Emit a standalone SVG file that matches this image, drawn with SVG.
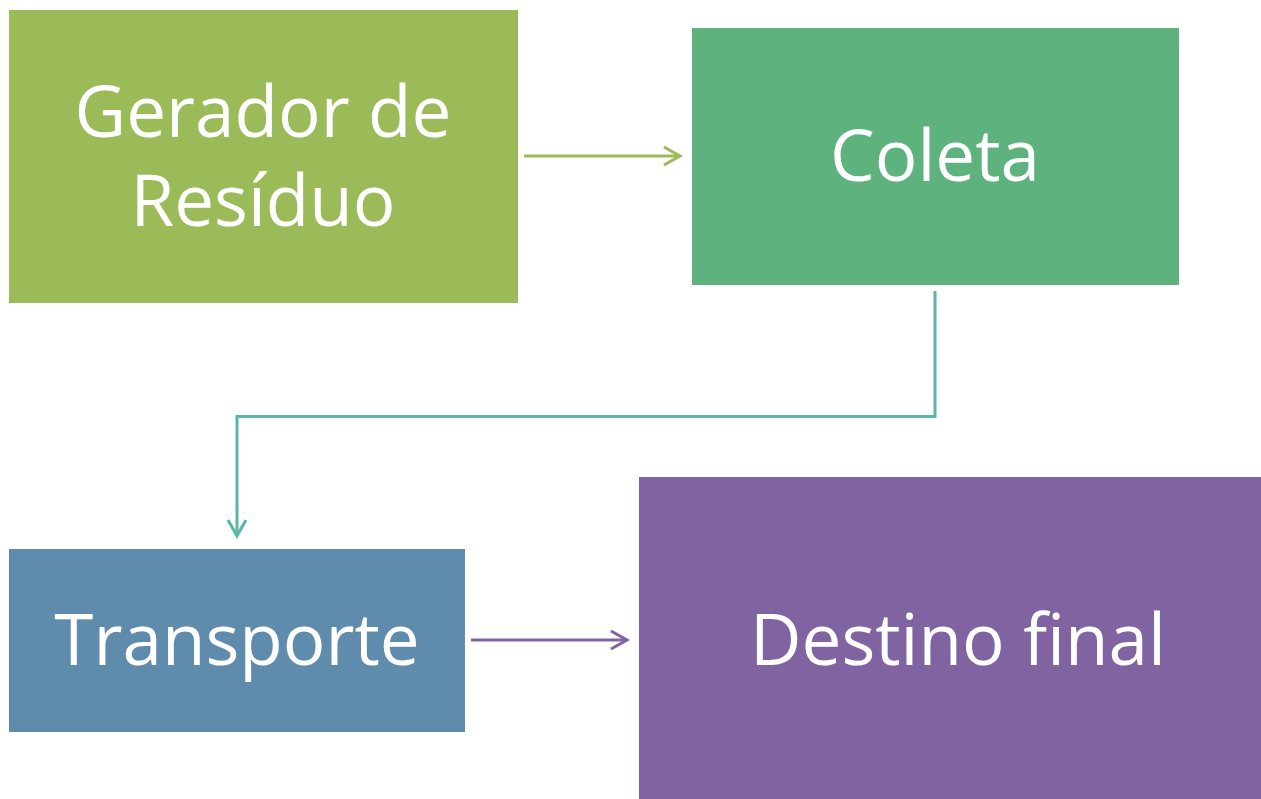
<svg xmlns="http://www.w3.org/2000/svg" width="1261" height="799" viewBox="0 0 1261 799">
<style>
.lbl{font-family:"Open Sans","Noto Sans","Liberation Sans",sans-serif;fill:#fff;text-anchor:middle;font-size:71px}
.c{fill:none;stroke-width:3}
</style>
<rect width="1261" height="799" fill="#fff"/>
<g id="gerador"><rect x="9" y="10" width="509" height="293" fill="#9BBB59"/><text class="lbl" x="263" y="137">Gerador de</text><text class="lbl" x="263" y="226">Resíduo</text></g>
<g id="coleta"><rect x="692" y="28" width="487" height="257" fill="#5DB27D"/><text class="lbl" x="935" y="181">Coleta</text></g>
<g id="transporte"><rect x="9" y="549" width="456" height="183" fill="#5F8BAD"/><text class="lbl" x="237" y="665">Transporte</text></g>
<g id="destino"><rect x="639" y="477" width="622" height="322" fill="#8064A2"/><text class="lbl" x="958" y="665">Destino final</text></g>
<g id="connectors">
<path class="c" stroke="#9BBB59" d="M524,156 H680"/><path class="c" stroke="#9BBB59" d="M664,147 L680,156 L664,165"/>
<path class="c" stroke="#5BB5A8" d="M935,291 V416.5 H237 V536"/><path class="c" stroke="#5BB5A8" d="M228,520 L237,536 L246,520"/>
<path class="c" stroke="#8064A2" d="M471,640 H627"/><path class="c" stroke="#8064A2" d="M611,631 L627,640 L611,649"/>
</g>
</svg>
